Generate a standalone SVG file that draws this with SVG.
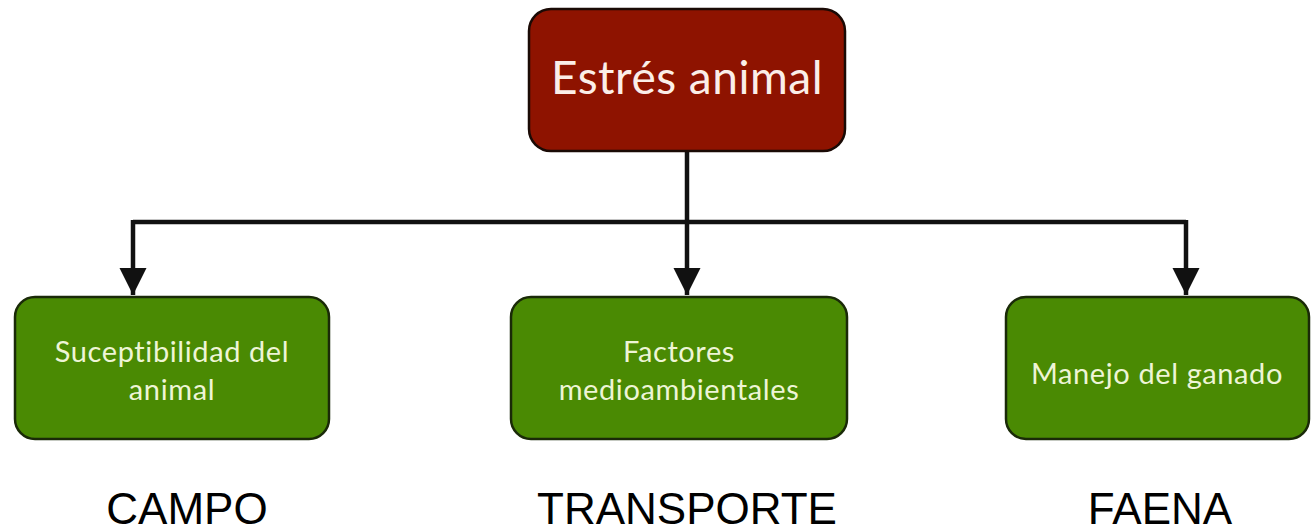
<svg xmlns="http://www.w3.org/2000/svg" width="1312" height="530" viewBox="0 0 1312 530">
<defs>
<style>
.red{fill:#8e1300;stroke:#1a0a05;stroke-width:2.5}
.green{fill:#4a8a03;stroke:#1a2a08;stroke-width:2.5}
.t{font-family:Lato,"Open Sans",sans-serif;text-anchor:middle}
.tw{fill:#fbeee8;font-size:46px;letter-spacing:0.5px}
.tg{fill:#eef5d6;font-size:29px;letter-spacing:0.6px}
.lab{font-family:"Liberation Sans",Arial,sans-serif;font-size:44px;fill:#000;text-anchor:middle}
.c{fill:none;stroke:#111;stroke-width:4.5}
</style>
<marker id="ah" viewBox="0 0 10 10" refX="10" refY="5" markerWidth="6" markerHeight="6.4" markerUnits="strokeWidth" orient="auto">
<path d="M0,0 L10,5 L0,10 Z" fill="#111"/>
</marker>
</defs>
<g id="connectors">
<path class="c" d="M687,152 V222"/>
<path class="c" d="M133,222 H1186"/>
<path class="c" d="M133,220 V295" marker-end="url(#ah)"/>
<path class="c" d="M687,222 V295" marker-end="url(#ah)"/>
<path class="c" d="M1186,220 V295" marker-end="url(#ah)"/>
</g>
<g id="estres">
<rect class="red" x="529" y="9" width="316" height="142" rx="22"/>
<text class="t tw" x="687" y="94">Estrés animal</text>
</g>
<g id="susceptibilidad">
<rect class="green" x="15" y="297" width="314" height="142" rx="20"/>
<text class="t tg" x="172" y="362">Suceptibilidad del</text>
<text class="t tg" x="172" y="400">animal</text>
</g>
<g id="factores">
<rect class="green" x="511" y="297" width="336" height="142" rx="20"/>
<text class="t tg" x="679" y="362">Factores</text>
<text class="t tg" x="679" y="400">medioambientales</text>
</g>
<g id="manejo">
<rect class="green" x="1006" y="297" width="303" height="142" rx="20"/>
<text class="t tg" x="1157" y="384">Manejo del ganado</text>
</g>
<g id="labels">
<text class="lab" x="187" y="524">CAMPO</text>
<text class="lab" x="687" y="524">TRANSPORTE</text>
<text class="lab" x="1160" y="524">FAENA</text>
</g>
</svg>
